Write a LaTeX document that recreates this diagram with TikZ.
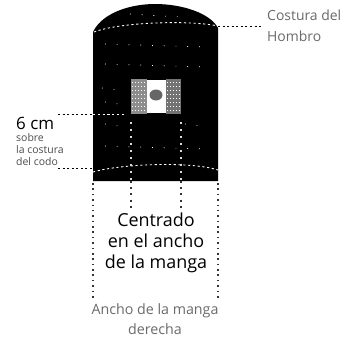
\documentclass[tikz,border=0pt]{standalone}
\usepackage{fontspec}
\setmainfont{Open Sans}
\usetikzlibrary{calc}
\definecolor{lightlabel}{gray}{0.42}
\tikzset{
  guide/.style={black,line width=1pt,dash pattern=on 2pt off 2.6pt},
  vguide/.style={black!80,line width=1.2pt,dash pattern=on 2pt off 4.2pt},
  sideguide/.style={black!80,line width=1.1pt,dash pattern=on 1.6pt off 3.8pt},
  seam/.style={white,line width=0.9pt,dash pattern=on 2.2pt off 2.6pt},
  speck/.style={white,line width=0.7pt,dash pattern=on 0.8pt off 11pt},
  markguide/.style={white!85!black,line width=1.2pt,dash pattern=on 2pt off 5pt},
  lbl/.style={inner sep=0pt,align=center,font=\fontsize{#1}{#1}\selectfont},
  lbl/.default=12
}
\begin{document}
\begin{tikzpicture}[x=1bp,y=-1bp]
\useasboundingbox (0,0) rectangle (347,341);
\fill[white] (0,0) rectangle (347,341);
% sleeve
\fill[black] (93,32) .. controls (102,13) and (130,4) .. (155,4)
  .. controls (182,4) and (210,13) .. (218,28) -- (218,181) -- (93,181) -- cycle;
% scattered texture
\foreach \yy/\xa/\xb in {14/130/180,44/105/205,64/105/205,88/102/125,102/105/125,124/105/125,124/185/208,146/105/205}{
  \draw[speck] (\xa,\yy) -- (\xb,\yy+3);
}
% flag
\fill[black!45] (131,79) rectangle (147,114);
\fill[black!55] (166,79) rectangle (181,114);
\fill[white] (147,80) rectangle (166,113);
\fill[black!60] (156,95) ellipse (6.5 and 5.5);
\foreach \yy in {82,86,...,112}{
  \draw[white,line width=0.6pt,dash pattern=on 1pt off 2pt] (132,\yy) -- (146,\yy);
  \draw[white,line width=0.6pt,dash pattern=on 1pt off 2pt] (167,\yy) -- (180,\yy);
}
% seams
\coordinate (shL) at (94,32);
\coordinate (shR) at (218,26);
\coordinate (shEnd) at (262,26);
\draw[seam] (shL) .. controls (120,22) and (190,20) .. (shR);
\draw[guide] (shR) -- (shEnd);
\coordinate (elL) at (93,172);
\coordinate (elR) at (218,170);
\draw[seam] (elL) .. controls (120,164) and (190,161) .. (elR);
% height guides
\coordinate (hTopA) at (58,114);
\coordinate (hTopB) at (93,114);
\coordinate (hTopC) at (125,114);
\coordinate (hBotA) at (58,168);
\coordinate (hBotB) at (93,168);
\draw[guide] (hTopA) -- (hTopB);
\draw[seam] (hTopB) -- (hTopC);
\draw[guide] (hBotA) -- (hBotB);
% centring guides
\coordinate (cLa) at (131,122);
\coordinate (cLb) at (131,181);
\coordinate (cLc) at (131,208);
\coordinate (cRa) at (181,122);
\coordinate (cRb) at (181,181);
\coordinate (cRc) at (181,208);
\draw[markguide] (cLa) -- (cLb);
\draw[markguide] (cRa) -- (cRb);
\draw[vguide] (cLb) -- (cLc);
\draw[vguide] (cRb) -- (cRc);
% width guides
\coordinate (wLa) at (93,183);
\coordinate (wLb) at (93,298);
\coordinate (wRa) at (218,183);
\coordinate (wRb) at (218,298);
\draw[sideguide] (wLa) -- (wLb);
\draw[sideguide] (wRa) -- (wRb);
% labels
\node[lbl=14,text=lightlabel,anchor=west,align=left] (costura) at (267,26) {Costura del\\[7pt]Hombro};
\node[lbl=17,anchor=west] (seis) at (16,123) {6 cm};
\node[lbl=10.5,anchor=west,align=left,text=black!70] (sobre) at (16,149.5) {sobre\\[1.5pt]la costura\\[1.5pt]del codo};
\node[lbl=18] (centrado) at (156,243) {Centrado\\[3pt]en el ancho\\[3pt]de la manga};
\node[lbl=14.3,text=lightlabel] (ancho) at (155,319) {Ancho de la manga\\[6pt]derecha};
\end{tikzpicture}
\end{document}
